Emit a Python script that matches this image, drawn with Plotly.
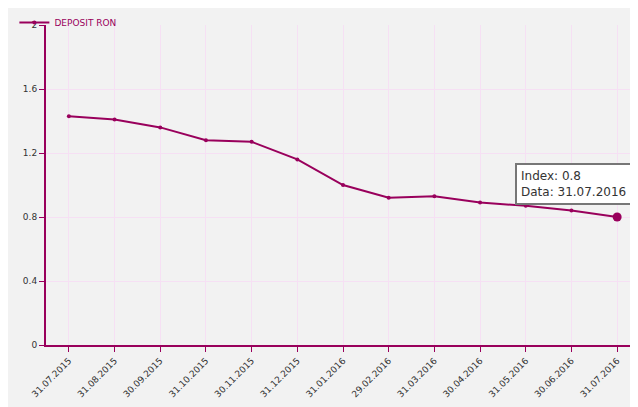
import plotly.graph_objects as go

dates = ["31.07.2015","31.08.2015","30.09.2015","31.10.2015","30.11.2015","31.12.2015",
         "31.01.2016","29.02.2016","31.03.2016","30.04.2016","31.05.2016","30.06.2016","31.07.2016"]
values = [1.43,1.41,1.36,1.28,1.27,1.16,1.00,0.92,0.93,0.89,0.87,0.84,0.80]
yticks = [0,0.4,0.8,1.2,1.6,2]
ytext = ["0","0.4","0.8","1.2","1.6","2"]
col = "#99005c"

fig = go.Figure()
fig.add_trace(go.Scatter(x=dates, y=values, mode="lines+markers", name="DEPOSIT RON",
                         line=dict(color=col, width=2), marker=dict(size=4, color=col)))
fig.add_trace(go.Scatter(x=[dates[-1]], y=[values[-1]], mode="markers", showlegend=False,
                         marker=dict(size=9, color=col)))
fig.add_annotation(x=dates[-1], y=values[-1], xref="x", yref="y",
                   text="Index: 0.8<br>Data: 31.07.2016", showarrow=False, align="left",
                   xanchor="right", yanchor="bottom", xshift=15, yshift=12,
                   bgcolor="white", bordercolor="#777", borderwidth=2, borderpad=4,
                   font=dict(family="DejaVu Sans", size=12, color="#333"))
fig.update_layout(
    width=638, height=407, margin=dict(l=38, r=6, t=17, b=70, autoexpand=False),
    paper_bgcolor="#f2f2f2", plot_bgcolor="#f2f2f2",
    font=dict(family="DejaVu Sans", size=9, color="#333"),
    showlegend=True,
    legend=dict(x=0.01, y=1.0, xref="container", yref="container", xanchor="left", yanchor="top",
                font=dict(size=9, color=col), bgcolor="rgba(0,0,0,0)",
                itemwidth=30, tracegroupgap=0),
    xaxis=dict(type="category", range=[-0.5, 12.5], tickangle=-45, showline=True,
               linecolor=col, linewidth=2, gridcolor="#f6e0f4", ticks="outside",
               tickcolor=col, ticklen=5, fixedrange=True),
    yaxis=dict(range=[0, 2], tickvals=yticks, ticktext=ytext, showline=True,
               linecolor=col, linewidth=2, gridcolor="#f6e0f4", ticks="outside",
               tickcolor=col, ticklen=5, zeroline=False),
)
fig.write_html("out.html")
